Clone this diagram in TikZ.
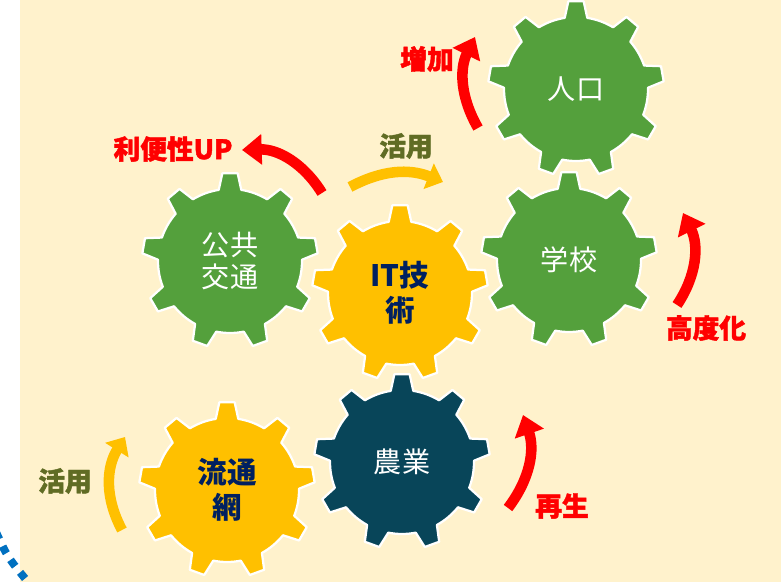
\documentclass[tikz,border=0pt]{standalone}
\usepackage{fontspec}
\newfontfamily\jpfont{Noto Sans CJK JP}
\newfontfamily\popfont{Noto Sans CJK JP Black}
\newfontfamily\tagfont[FakeBold=1.6]{Noto Sans CJK JP Black}
\usetikzlibrary{arrows.meta}

\definecolor{cream}{RGB}{255,242,204}
\definecolor{gearGreen}{RGB}{84,160,60}
\definecolor{gearGold}{RGB}{255,192,0}
\definecolor{gearTeal}{RGB}{8,69,89}
\definecolor{navy}{RGB}{0,32,96}
\definecolor{olive}{RGB}{96,108,36}
\definecolor{dotBlue}{RGB}{0,112,192}

\tikzstyle{gear} = [draw=white, line width=1.6pt, line join=round]
\tikzstyle{gearlabel} = [text=white, font=\jpfont\fontsize{20}{23}\selectfont, align=center]
\tikzstyle{gearbold} = [text=navy, font=\popfont\fontsize{21}{25}\selectfont, align=center]
\tikzstyle{redtag} = [text=red, font=\tagfont\fontsize{19}{22}\selectfont]
\tikzstyle{olivetag} = [text=olive, font=\tagfont\fontsize{19}{22}\selectfont]
\tikzstyle{redarrow} = [draw=red, line width=7.5pt, -{Triangle[width=21pt, length=14pt]}]
\tikzstyle{goldarrow} = [draw=gearGold, line width=7.5pt, -{Triangle[width=19pt, length=11pt]}]
\tikzstyle{dotline} = [draw=dotBlue, line width=5.6pt, dash pattern=on 5.6pt off 5.6pt]

% gear with 9 teeth: body radius 72, tip radius 88
\newcommand{\drawgear}[2]{%
  \path[gear, fill=#2, shift={(#1)}] (81:72)
    foreach \a in {90,130,...,410} {
      -- (\a-5:88) -- (\a+5:88) -- (\a+9:72)
      arc[start angle=\a+9, end angle=\a+31, radius=72]
    } -- cycle;}

\begin{document}
\begin{tikzpicture}[x=0.025cm, y=0.025cm]
            \useasboundingbox (0,0) rectangle (781,582);
            % Background
            \fill[white] (0,0) rectangle (20,582);
            \fill[cream] (20,0) rectangle (781,582);

            % Draw gears
            \drawgear{576,493}{gearGreen}
            \drawgear{569,322}{gearGreen}
            \drawgear{230,321}{gearGreen}
            \drawgear{400,289}{gearGold}
            \drawgear{402,120}{gearTeal}
            \drawgear{227,92}{gearGold}

            % Draw nodes
            \node (pop) [gearlabel] at (576,493) {人口};
            \node (school) [gearlabel] at (569,322) {学校};
            \node (transit) [gearlabel] at (230,321) {公共\\交通};
            \node (itech) [gearbold] at (400,289) {IT技\\術};
            \node (farm) [gearlabel] at (402,120) {農業};
            \node (dist) [gearbold] at (227,92) {流通\\網};

            % Tags
            \node (tag1) [redtag] at (173,433) {利便性UP};
            \node (tag2) [redtag] at (427,523) {増加};
            \node (tag3) [olivetag] at (406,436) {活用};
            \node (tag4) [redtag] at (706,254) {高度化};
            \node (tag5) [redtag] at (562,76) {再生};
            \node (tag6) [olivetag] at (65,101) {活用};

            % Arrow ends
            \coordinate (a1) at (322,389);  \coordinate (b1) at (242,432);
            \coordinate (a2) at (478,454);  \coordinate (b2) at (475,545);
            \coordinate (a3) at (350,395);  \coordinate (b3) at (443,400);
            \coordinate (a4) at (677,277);  \coordinate (b4) at (683,369);
            \coordinate (a5) at (508,74);   \coordinate (b5) at (523,167);
            \coordinate (a6) at (122,52);   \coordinate (b6) at (125,145);

            % Draw lines
            \path [redarrow] (a1) to[bend right=30] (b1);
            \path [redarrow] (a2) to[bend left=28] (b2);
            \path [goldarrow] (a3) to[bend left=25] (b3);
            \path [redarrow] (a4) to[bend right=30] (b4);
            \path [redarrow] (a5) to[bend right=28] (b5);
            \path [goldarrow] (a6) to[bend left=30] (b6);

            % Dotted edge
            \coordinate (d1) at (-4,50);
            \coordinate (d2) at (33,-6);
            \path [dotline] (d1) .. controls (7.6,24.5) .. (d2);
        \end{tikzpicture}
\end{document}
